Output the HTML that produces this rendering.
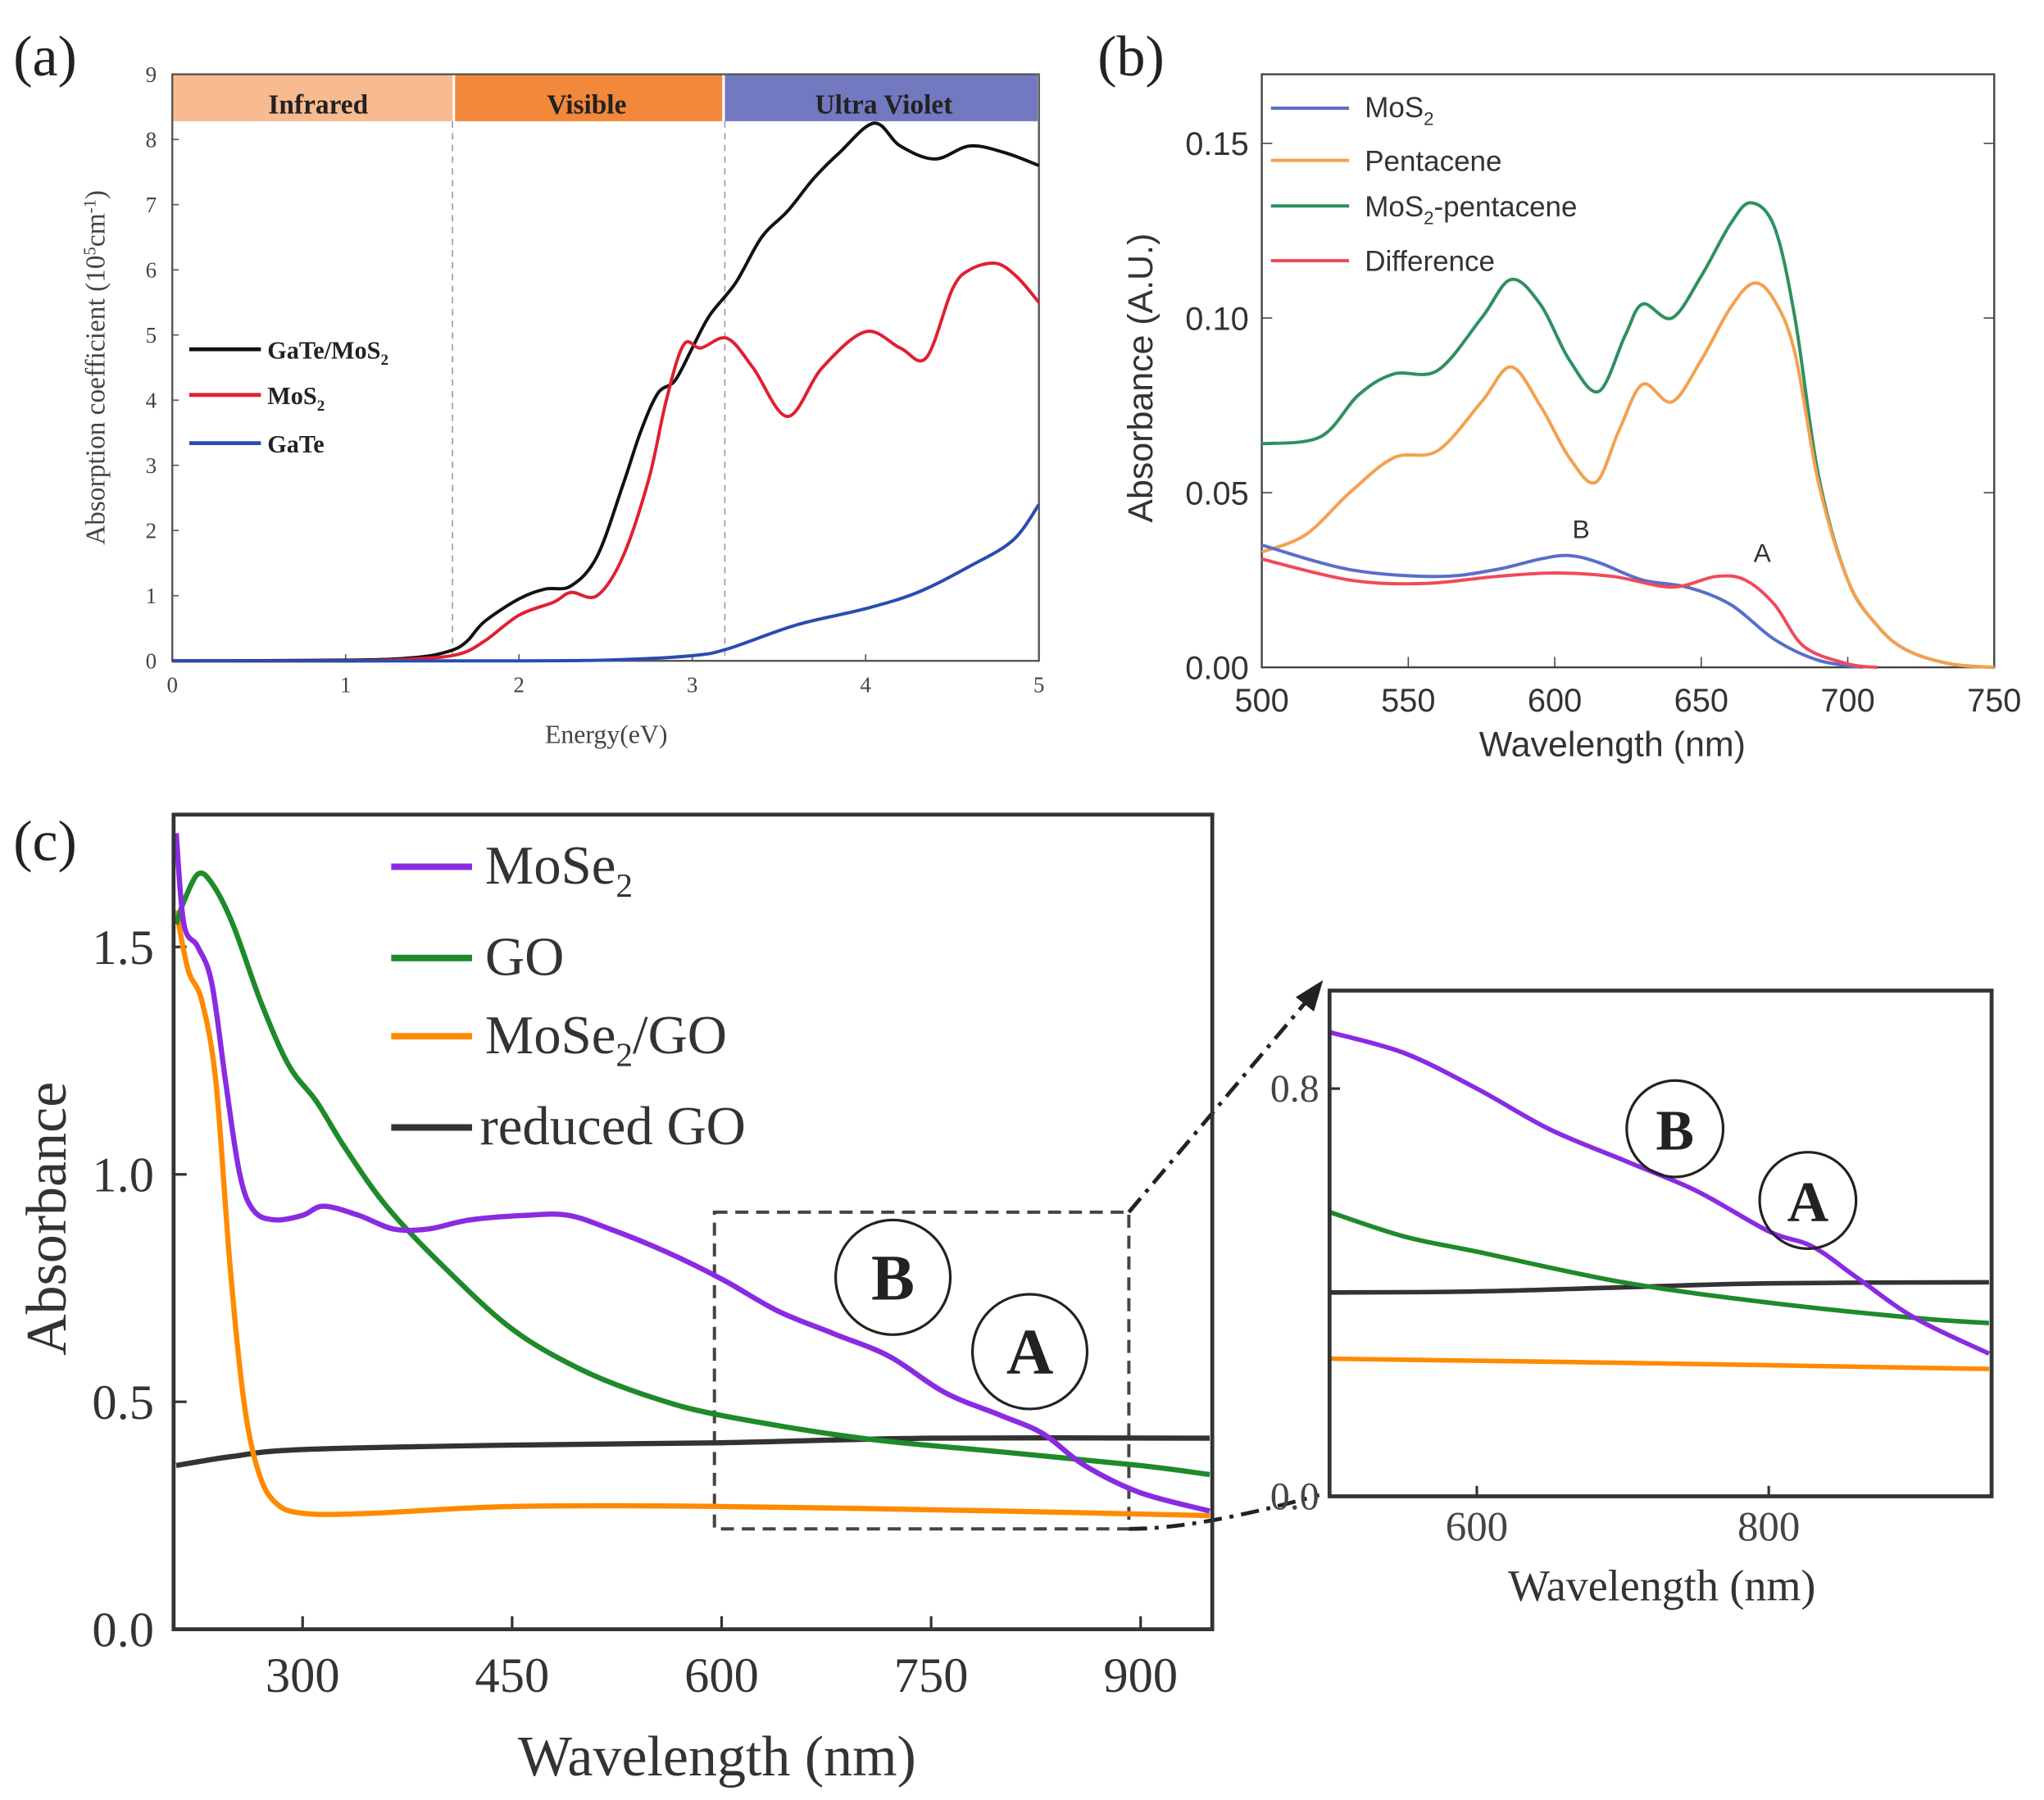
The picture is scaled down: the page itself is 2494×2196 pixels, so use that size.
<!DOCTYPE html>
<html><head><meta charset="utf-8"><style>
html,body{margin:0;padding:0;background:#fff;}
svg{display:block}
.s{font-family:"Liberation Serif",serif}
.a{font-family:"Liberation Sans",sans-serif}
</style></head><body>
<svg id="g" width="2494" height="2196" viewBox="0 0 1568 1381" xmlns="http://www.w3.org/2000/svg">
<rect width="1568" height="1381" fill="#fff"/>
<!-- Panel a -->
<text x="10" y="58" class="s" font-size="44" fill="#222">(a)</text>
<rect x="132" y="57" width="215" height="36" fill="#f8bb90"/>
<rect x="349" y="57" width="205" height="36" fill="#f2883a"/>
<rect x="556" y="57" width="240" height="36" fill="#7379c0"/>
<text x="244" y="87" class="s" font-size="21" font-weight="bold" text-anchor="middle" fill="#222">Infrared</text>
<text x="450" y="87" class="s" font-size="21" font-weight="bold" text-anchor="middle" fill="#222">Visible</text>
<text x="678" y="87" class="s" font-size="21" font-weight="bold" text-anchor="middle" fill="#222">Ultra Violet</text>
<line x1="347" y1="93" x2="347" y2="507" stroke="#999" stroke-dasharray="5,4"/>
<line x1="556" y1="93" x2="556" y2="507" stroke="#999" stroke-dasharray="5,4"/>
<rect x="132" y="57" width="665" height="450" fill="none" stroke="#555" stroke-width="1.5"/>
<g id="ta"></g>
<text transform="translate(80,282) rotate(-90)" class="s" font-size="21" text-anchor="middle" fill="#444">Absorption coefficient (10<tspan font-size="13" dy="-7">5</tspan><tspan dy="7">cm</tspan><tspan font-size="13" dy="-7">-1</tspan><tspan dy="7">)</tspan></text>
<text x="465" y="570" class="s" font-size="20" text-anchor="middle" fill="#444">Energy(eV)</text>
<line x1="145" y1="268" x2="200" y2="268" stroke="#111" stroke-width="3"/>
<line x1="145" y1="303" x2="200" y2="303" stroke="#e02030" stroke-width="3"/>
<line x1="145" y1="340" x2="200" y2="340" stroke="#2a4cb0" stroke-width="3"/>
<text x="205" y="275" class="s" font-size="19" font-weight="bold" fill="#222">GaTe/MoS<tspan font-size="12" dy="5">2</tspan></text>
<text x="205" y="310" class="s" font-size="19" font-weight="bold" fill="#222">MoS<tspan font-size="12" dy="5">2</tspan></text>
<text x="205" y="347" class="s" font-size="19" font-weight="bold" fill="#222">GaTe</text>
<g id="ca"></g>
<!-- Panel b -->
<text x="842" y="58" class="s" font-size="44" fill="#222">(b)</text>
<rect x="968" y="57" width="562" height="455" fill="none" stroke="#444" stroke-width="1.5"/>
<g id="tb"></g>
<text transform="translate(884,290) rotate(-90)" class="a" font-size="27" text-anchor="middle" fill="#333">Absorbance (A.U.)</text>
<text x="1237" y="580" class="a" font-size="27" text-anchor="middle" fill="#333">Wavelength (nm)</text>
<line x1="975" y1="83" x2="1035" y2="83" stroke="#5a6ec8" stroke-width="2.5"/>
<line x1="975" y1="123" x2="1035" y2="123" stroke="#f4a050" stroke-width="2.5"/>
<line x1="975" y1="158" x2="1035" y2="158" stroke="#2e9060" stroke-width="2.5"/>
<line x1="975" y1="200" x2="1035" y2="200" stroke="#f04a5a" stroke-width="2.5"/>
<text x="1047" y="90" class="a" font-size="22" fill="#333">MoS<tspan font-size="14" dy="6">2</tspan></text>
<text x="1047" y="131" class="a" font-size="22" fill="#333">Pentacene</text>
<text x="1047" y="166" class="a" font-size="22" fill="#333">MoS<tspan font-size="14" dy="6">2</tspan><tspan dy="-6">-pentacene</tspan></text>
<text x="1047" y="208" class="a" font-size="22" fill="#333">Difference</text>
<text x="1213" y="413" class="a" font-size="20" text-anchor="middle" fill="#333">B</text>
<text x="1352" y="431" class="a" font-size="20" text-anchor="middle" fill="#333">A</text>
<g id="cb"></g>
<!-- Panel c -->
<text x="10" y="660" class="s" font-size="44" fill="#222">(c)</text>
<rect x="548" y="930" width="318" height="243" fill="none" stroke="#444" stroke-width="2.5" stroke-dasharray="10,6"/>
<line x1="866" y1="930" x2="1005" y2="765" stroke="#222" stroke-width="3" stroke-dasharray="14,6,3,6"/>
<polygon points="1015,752 994,765 1008,776" fill="#222"/>
<path d="M866,1173 Q920,1173 1012,1147" fill="none" stroke="#222" stroke-width="3" stroke-dasharray="14,6,3,6"/>
<g id="tc"></g>
<text transform="translate(50,935) rotate(-90)" class="s" font-size="44" text-anchor="middle" fill="#333">Absorbance</text>
<text x="550" y="1362" class="s" font-size="44" text-anchor="middle" fill="#333">Wavelength (nm)</text>
<line x1="300" y1="665" x2="362" y2="665" stroke="#8a2be2" stroke-width="5"/>
<line x1="300" y1="735" x2="362" y2="735" stroke="#1e8a2a" stroke-width="5"/>
<line x1="300" y1="795" x2="362" y2="795" stroke="#ff8a00" stroke-width="5"/>
<line x1="300" y1="865" x2="362" y2="865" stroke="#333" stroke-width="5"/>
<text x="372" y="678" class="s" font-size="42" fill="#333">MoSe<tspan font-size="26" dy="10">2</tspan></text>
<text x="372" y="748" class="s" font-size="42" fill="#333">GO</text>
<text x="372" y="808" class="s" font-size="42" fill="#333">MoSe<tspan font-size="26" dy="10">2</tspan><tspan dy="-10">/GO</tspan></text>
<text x="368" y="878" class="s" font-size="42" fill="#333">reduced GO</text>
<g id="cc"></g>
<rect x="133" y="625" width="797" height="625" fill="none" stroke="#333" stroke-width="3"/>
<circle cx="685" cy="980" r="44" fill="none" stroke="#222" stroke-width="2"/>
<text x="685" y="997" class="s" font-size="50" font-weight="bold" text-anchor="middle" fill="#222">B</text>
<circle cx="790" cy="1037" r="44" fill="none" stroke="#222" stroke-width="2"/>
<text x="790" y="1054" class="s" font-size="50" font-weight="bold" text-anchor="middle" fill="#222">A</text>
<!-- inset -->
<g id="ci"></g>
<rect x="1020" y="760" width="508" height="388" fill="none" stroke="#333" stroke-width="3"/>
<g id="ti"></g>
<circle cx="1285" cy="866" r="37" fill="none" stroke="#222" stroke-width="2"/>
<text x="1285" y="882" class="s" font-size="44" font-weight="bold" text-anchor="middle" fill="#222">B</text>
<circle cx="1387" cy="921" r="37" fill="none" stroke="#222" stroke-width="2"/>
<text x="1387" y="937" class="s" font-size="44" font-weight="bold" text-anchor="middle" fill="#222">A</text>
<text x="1275" y="1228" class="s" font-size="34" text-anchor="middle" fill="#333">Wavelength (nm)</text>
</svg>
<script>
var NS="http://www.w3.org/2000/svg";
function el(p,t,a,txt){var e=document.createElementNS(NS,t);for(var k in a)e.setAttribute(k,a[k]);if(txt!==undefined)e.textContent=txt;document.getElementById(p).appendChild(e);return e;}
function path(pts){var d="M"+pts[0][0]+","+pts[0][1];for(var i=0;i<pts.length-1;i++){var p0=pts[i-1]||pts[i],p1=pts[i],p2=pts[i+1],p3=pts[i+2]||p2;
var c1=[p1[0]+(p2[0]-p0[0])/6,p1[1]+(p2[1]-p0[1])/6],c2=[p2[0]-(p3[0]-p1[0])/6,p2[1]-(p3[1]-p1[1])/6];
d+=" C"+c1[0].toFixed(1)+","+c1[1].toFixed(1)+" "+c2[0].toFixed(1)+","+c2[1].toFixed(1)+" "+p2[0].toFixed(1)+","+p2[1].toFixed(1);}return d;}
function curve(g,data,fx,fy,col,w){el(g,"path",{d:path(data.map(function(p){return[fx(p[0]),fy(p[1])]})),fill:"none",stroke:col,"stroke-width":w,"stroke-linejoin":"round"});}
// a
var ax=function(v){return 132+133*v},ay=function(v){return 507-50*v};
for(var i=0;i<=9;i++){el("ta","text",{x:120,y:ay(i)+6,"font-size":17,"text-anchor":"end",fill:"#444","class":"s"},i);el("ta","line",{x1:132,y1:ay(i),x2:137,y2:ay(i),stroke:"#555"});}
for(var i=0;i<=5;i++){el("ta","text",{x:ax(i),y:531,"font-size":17,"text-anchor":"middle",fill:"#444","class":"s"},i);el("ta","line",{x1:ax(i),y1:507,x2:ax(i),y2:502,stroke:"#555"});}
curve("ca",[[0,0],[1,0.01],[1.4,0.05],[1.6,0.15],[1.7,0.3],[1.8,0.6],[2.0,0.95],[2.15,1.1],[2.3,1.15],[2.45,1.6],[2.6,2.7],[2.7,3.5],[2.8,4.1],[2.9,4.3],[3.0,4.8],[3.1,5.3],[3.25,5.8],[3.4,6.5],[3.55,6.9],[3.7,7.4],[3.85,7.8],[4.05,8.25],[4.2,7.9],[4.4,7.7],[4.6,7.9],[4.8,7.8],[5,7.6]],ax,ay,"#111",2.5);
curve("ca",[[0,0],[1,0],[1.4,0.03],[1.65,0.1],[1.8,0.3],[2.0,0.7],[2.2,0.9],[2.3,1.05],[2.45,1.0],[2.6,1.6],[2.75,2.8],[2.85,4.0],[2.95,4.85],[3.05,4.8],[3.2,4.95],[3.35,4.5],[3.55,3.75],[3.75,4.5],[4.0,5.05],[4.2,4.8],[4.35,4.65],[4.5,5.7],[4.6,6.0],[4.75,6.1],[4.87,5.9],[5,5.5]],ax,ay,"#e02030",2.5);
curve("ca",[[0,0],[2,0],[2.6,0.02],[3.0,0.08],[3.2,0.18],[3.6,0.55],[4.0,0.8],[4.3,1.05],[4.6,1.45],[4.85,1.85],[5,2.4]],ax,ay,"#2a4cb0",2.5);
// b
var bx=function(v){return 968+2.248*(v-500)},by=function(v){return 512-2680*v};
[0,0.05,0.10,0.15].forEach(function(v){el("tb","text",{x:958,y:by(v)+9,"font-size":25,"text-anchor":"end",fill:"#333","class":"a"},v.toFixed(2));el("tb","line",{x1:968,y1:by(v),x2:976,y2:by(v),stroke:"#444"});el("tb","line",{x1:1530,y1:by(v),x2:1522,y2:by(v),stroke:"#444"});});
[500,550,600,650,700,750].forEach(function(v){el("tb","text",{x:bx(v),y:546,"font-size":25,"text-anchor":"middle",fill:"#333","class":"a"},v);el("tb","line",{x1:bx(v),y1:512,x2:bx(v),y2:504,stroke:"#444"});});
curve("cb",[[500,0.064],[520,0.066],[533,0.078],[545,0.084],[560,0.085],[575,0.1],[585,0.111],[595,0.104],[605,0.088],[615,0.079],[624,0.095],[630,0.104],[640,0.1],[650,0.112],[660,0.127],[667,0.133],[675,0.126],[682,0.1],[690,0.055],[700,0.025],[710,0.012],[720,0.005],[735,0.001],[750,0]],bx,by,"#2e9060",2.5);
curve("cb",[[500,0.033],[515,0.038],[530,0.05],[545,0.06],[560,0.062],[575,0.076],[585,0.086],[595,0.075],[605,0.06],[614,0.053],[622,0.068],[630,0.081],[640,0.076],[650,0.088],[660,0.103],[668,0.11],[675,0.105],[682,0.09],[690,0.053],[700,0.025],[710,0.012],[720,0.005],[735,0.001],[750,0]],bx,by,"#f4a050",2.5);
curve("cb",[[500,0.035],[530,0.028],[560,0.026],[580,0.028],[595,0.031],[605,0.032],[615,0.03],[630,0.025],[645,0.023],[660,0.018],[675,0.008],[690,0.002],[705,0]],bx,by,"#5a6ec8",2.5);
curve("cb",[[500,0.031],[530,0.025],[555,0.024],[580,0.026],[600,0.027],[620,0.026],[640,0.023],[655,0.026],[665,0.025],[675,0.018],[685,0.006],[700,0.001],[710,0]],bx,by,"#f04a5a",2.5);
// c
var cx=function(v){return 232+1.0717*(v-300)},cy=function(v){return 1250-349*v};
[0,0.5,1.0,1.5].forEach(function(v){el("tc","text",{x:118,y:cy(v)+13,"font-size":38,"text-anchor":"end",fill:"#333","class":"s"},v.toFixed(1));el("tc","line",{x1:133,y1:cy(v),x2:143,y2:cy(v),stroke:"#333","stroke-width":2});});
[300,450,600,750,900].forEach(function(v){el("tc","text",{x:cx(v),y:1298,"font-size":38,"text-anchor":"middle",fill:"#333","class":"s"},v);el("tc","line",{x1:cx(v),y1:1250,x2:cx(v),y2:1240,stroke:"#333","stroke-width":2});});
var C=function(x){return Math.max(135,Math.min(928,x))};
var fx=function(v){return C(cx(v))};
curve("cc",[[208,0.36],[250,0.38],[300,0.395],[450,0.405],[600,0.41],[750,0.42],[950,0.42]],fx,cy,"#333",4);
curve("cc",[[208,1.58],[218,1.45],[228,1.38],[238,1.2],[248,0.8],[258,0.5],[268,0.35],[280,0.28],[300,0.255],[350,0.255],[450,0.27],[600,0.27],[800,0.26],[950,0.25]],fx,cy,"#ff8a00",4);
curve("cc",[[208,1.55],[215,1.6],[225,1.66],[235,1.64],[250,1.55],[270,1.38],[290,1.24],[310,1.16],[330,1.06],[360,0.93],[400,0.8],[450,0.66],[500,0.57],[550,0.51],[600,0.47],[700,0.42],[800,0.39],[900,0.36],[950,0.34]],fx,cy,"#1e8a2a",4);
curve("cc",[[208,1.75],[215,1.55],[225,1.5],[235,1.42],[245,1.2],[255,1.0],[265,0.92],[280,0.9],[300,0.91],[315,0.93],[340,0.91],[365,0.88],[390,0.88],[420,0.9],[460,0.91],[490,0.91],[520,0.88],[560,0.83],[600,0.77],[640,0.7],[680,0.65],[720,0.6],[760,0.52],[800,0.47],[830,0.43],[860,0.36],[900,0.3],[950,0.26]],fx,cy,"#8a2be2",4);
// inset
var ix=function(v){return Math.min(1526,1021+1.12*(v-500))},iy=function(v){return 1148-391*v};
[[0,"0.0"],[0.8,"0.8"]].forEach(function(a){el("ti","text",{x:1012,y:iy(a[0])+10,"font-size":30,"text-anchor":"end",fill:"#444","class":"s"},a[1]);el("ti","line",{x1:1020,y1:iy(a[0]),x2:1028,y2:iy(a[0]),stroke:"#333","stroke-width":2});});
[600,800].forEach(function(v){el("ti","text",{x:ix(v),y:1182,"font-size":32,"text-anchor":"middle",fill:"#444","class":"s"},v);el("ti","line",{x1:ix(v),y1:1148,x2:ix(v),y2:1140,stroke:"#333","stroke-width":2});});
curve("ci",[[500,0.27],[700,0.262],[955,0.25]],ix,iy,"#ff8a00",3.5);
curve("ci",[[500,0.40],[600,0.402],[700,0.41],[800,0.418],[955,0.42]],ix,iy,"#333",3.5);
curve("ci",[[500,0.557],[550,0.51],[600,0.48],[700,0.42],[800,0.38],[900,0.35],[955,0.34]],ix,iy,"#1e8a2a",3.5);
curve("ci",[[500,0.91],[550,0.87],[600,0.8],[650,0.72],[700,0.66],[750,0.6],[800,0.52],[830,0.49],[860,0.43],[900,0.35],[955,0.28]],ix,iy,"#8a2be2",3.5);
</script>
</body></html>
